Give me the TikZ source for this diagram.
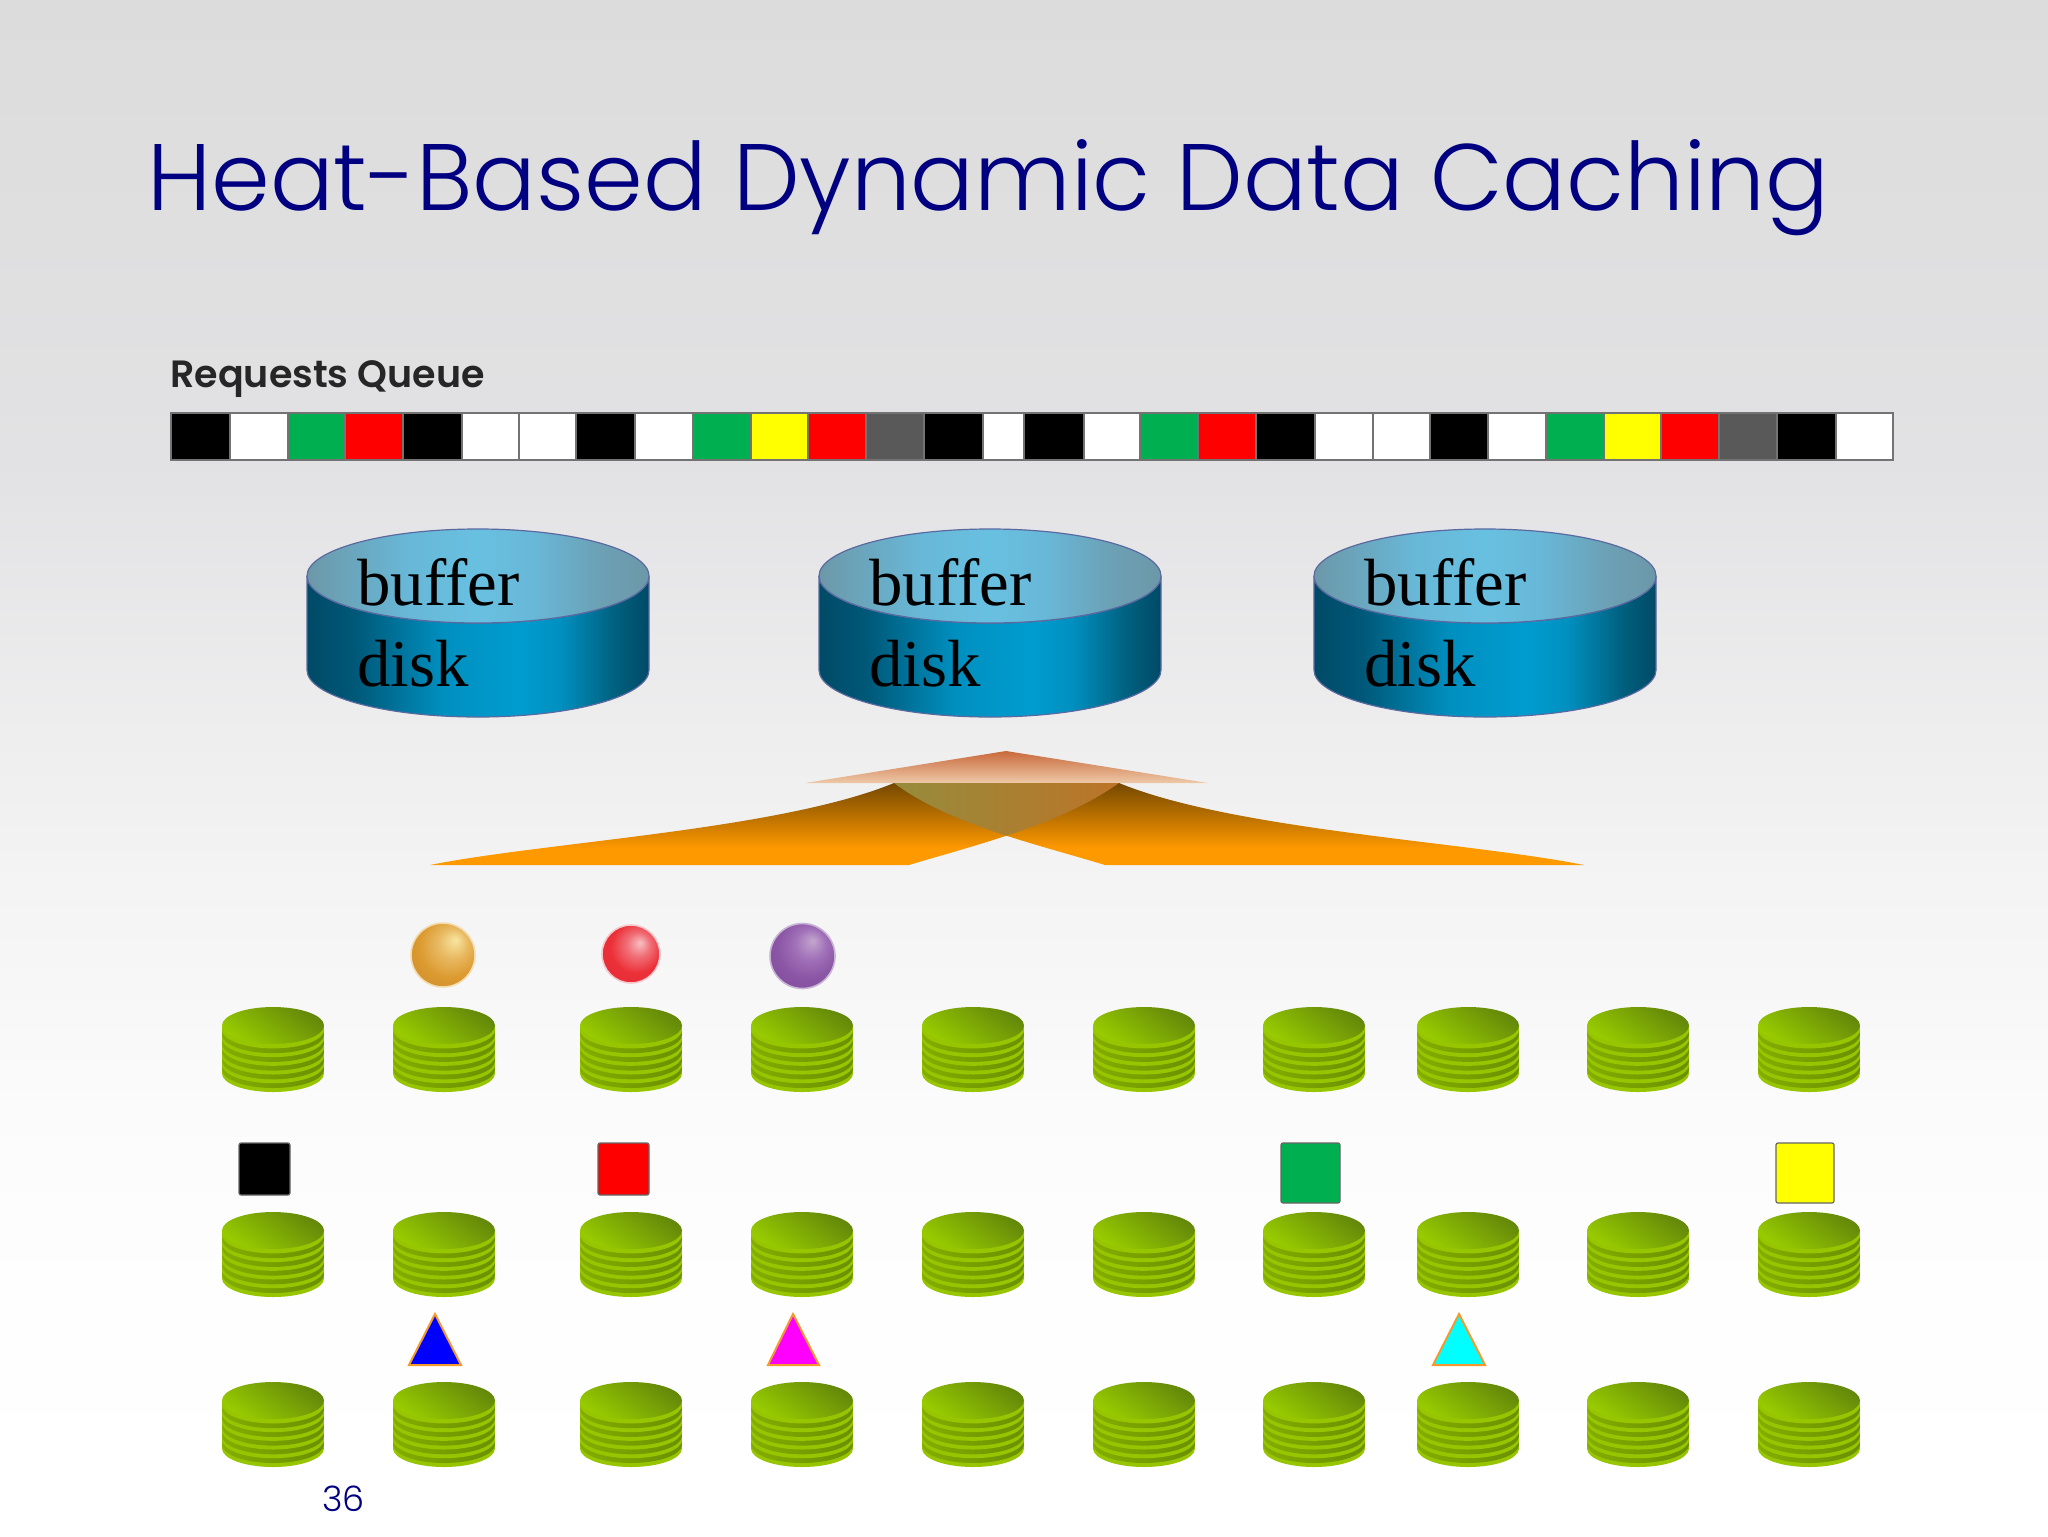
\documentclass[tikz,border=0pt]{standalone}
\usepackage{fontspec}
\setmainfont{Liberation Serif}
\newfontfamily\slidelight{Poppins Light}
\newfontfamily\slidebold{Poppins SemiBold}
\definecolor{navy}{HTML}{000080}
\definecolor{qgreen}{HTML}{00B050}
\definecolor{qgrey}{HTML}{595959}
\definecolor{qred}{HTML}{FF0000}
\definecolor{qyellow}{HTML}{FFFF00}
\definecolor{qblue}{HTML}{0000FF}
\definecolor{qmagenta}{HTML}{FF00FF}
\definecolor{qcyan}{HTML}{00FFFF}
\definecolor{rimgreen}{HTML}{97C600}
\definecolor{bandL}{HTML}{84AD00}
\definecolor{bandM}{HTML}{6A9000}
\definecolor{topA}{HTML}{98CC00}
\definecolor{topB}{HTML}{64880A}
\definecolor{ballA}{HTML}{F7E6A0}
\definecolor{ballM}{HTML}{E8B860}
\definecolor{ballB}{HTML}{DC9A30}
\definecolor{ballC}{HTML}{C9882C}
\definecolor{ballD}{HTML}{F3DDB0}
\definecolor{redA}{HTML}{F8C0C4}
\definecolor{redM}{HTML}{F07078}
\definecolor{redB}{HTML}{EC3038}
\definecolor{redC}{HTML}{E02A36}
\definecolor{redD}{HTML}{F6C8CC}
\definecolor{purA}{HTML}{C4A6CE}
\definecolor{purM}{HTML}{A070B8}
\definecolor{purB}{HTML}{8A55A4}
\definecolor{purC}{HTML}{7D4A98}
\definecolor{purD}{HTML}{C8B4D4}
\definecolor{diskA}{HTML}{004A66}
\definecolor{diskB}{HTML}{005878}
\definecolor{diskC}{HTML}{0090C0}
\definecolor{diskD}{HTML}{009CD0}
\definecolor{diskE}{HTML}{00607F}
\definecolor{diskline}{HTML}{5A6AA0}
\definecolor{topE}{HTML}{6C98A8}
\definecolor{topF}{HTML}{68B8D8}
\definecolor{topG}{HTML}{68C0E0}
\definecolor{topH}{HTML}{6CA0B4}
\definecolor{triorange}{HTML}{F29A2E}
\definecolor{fanA}{HTML}{C8693A}
\definecolor{fanB}{HTML}{EEC9A8}
\definecolor{fanC}{HTML}{744800}
\definecolor{fanD}{HTML}{FF9900}
\definecolor{lensA}{HTML}{968C3C}
\definecolor{lensB}{HTML}{BC7428}
\definecolor{bg0}{HTML}{FFFFFF}
\definecolor{bg1}{HTML}{FEFEFE}
\definecolor{bg15}{HTML}{FBFBFC}
\definecolor{bg2}{HTML}{F4F4F5}
\definecolor{bg3}{HTML}{EEEEEF}
\definecolor{bg4}{HTML}{E2E2E4}
\definecolor{bg5}{HTML}{DCDCDC}
\pgfdeclareverticalshading{slidebg}{100bp}{color(0bp)=(bg0);color(25bp)=(bg0);color(33bp)=(bg1);color(39bp)=(bg15);color(46bp)=(bg2);color(51bp)=(bg3);color(60bp)=(bg4);color(75bp)=(bg5);color(100bp)=(bg5)}
\pgfdeclareverticalshading{fanshade}{100bp}{color(0bp)=(fanD);color(35bp)=(fanD);color(75bp)=(fanC);color(100bp)=(fanC)}
\pgfdeclarehorizontalshading{diskside}{100bp}{color(0bp)=(diskA);color(25bp)=(diskA);color(32bp)=(diskB);color(45bp)=(diskC);color(56bp)=(diskD);color(62bp)=(diskC);color(70bp)=(diskE);color(75bp)=(diskA);color(100bp)=(diskA)}
\pgfdeclarehorizontalshading{disktop}{100bp}{color(0bp)=(topE);color(25bp)=(topE);color(40bp)=(topF);color(50bp)=(topG);color(58bp)=(topF);color(68bp)=(topH);color(75bp)=(topE);color(100bp)=(topE)}
\pgfdeclareradialshading{goldball}{\pgfpoint{10bp}{12bp}}{color(0bp)=(ballA);color(12bp)=(ballM);color(24bp)=(ballB);color(40bp)=(ballC);color(50bp)=(ballC)}
\pgfdeclareradialshading{redball}{\pgfpoint{8bp}{10bp}}{color(0bp)=(redA);color(10bp)=(redM);color(22bp)=(redB);color(40bp)=(redC);color(50bp)=(redC)}
\pgfdeclareradialshading{purball}{\pgfpoint{8bp}{12bp}}{color(0bp)=(purA);color(12bp)=(purM);color(24bp)=(purB);color(40bp)=(purC);color(50bp)=(purC)}
\tikzset{
  cell/.style={draw=black!55,line width=0.6pt},
  bigside/.style={draw=diskline,line width=0.6pt,shading=diskside},
  bigtop/.style={draw=diskline,line width=0.6pt,shading=disktop},
  disklabel/.style={anchor=base west,inner sep=0pt,font=\fontsize{33.4}{36}\selectfont,text=black},
  marker/.style={draw=black!60,line width=0.6pt,rounded corners=1pt},
  tri/.style={draw=triorange,line width=1pt,line join=miter},
  stackdisk/.pic={
    \fill[rimgreen] (-51,18.5) rectangle (51,66.5);
    \fill[rimgreen] (0,66.5) ellipse [x radius=51,y radius=18.5];
    \foreach \b in {62.5,53.8,45.1,36.4,27.7}{
      \shade[left color=bandL,middle color=bandM,right color=bandM] (0,\b) ellipse [x radius=51,y radius=18.5];
      \fill[rimgreen] (0,\b-4.8) ellipse [x radius=51,y radius=18.5];
    }
    \shade[top color=topB,bottom color=topA,shading angle=-35] (0,18.5) ellipse [x radius=51,y radius=18.5];
  }
}
\begin{document}
\begin{tikzpicture}[x=0.5pt,y=-0.5pt]
\shade[shading=slidebg] (0,0) rectangle (2048,1536);
\useasboundingbox (0,0) rectangle (2048,1536);
\node[anchor=base west,inner sep=0pt,text=navy,font=\slidelight\fontsize{47.2}{50}\selectfont] (title) at (147,210) {Heat-Based Dynamic Data Caching};
\node[anchor=base west,inner sep=0pt,text=black!85,font=\slidebold\fontsize{19}{22}\selectfont] (queuelabel) at (170,387) {Requests Queue};
% request queue
\foreach \xa/\xb/\c in {171/230/black,230/288/white,288/345/qgreen,345/403/qred,403/462/black,462/519/white,519/576/white,576/635/black,635/693/white,693/751/qgreen,751/808/qyellow,808/866/qred,866/924/qgrey,924/983/black,983/1024/white,1024/1084/black,1084/1140/white,1140/1198/qgreen,1198/1256/qred,1256/1315/black,1315/1373/white,1373/1430/white,1430/1488/black,1488/1546/white,1546/1604/qgreen,1604/1661/qyellow,1661/1719/qred,1719/1777/qgrey,1777/1836/black,1836/1893/white}
  \draw[cell,fill=\c] (\xa,413) rectangle (\xb,460);
% buffer disks
\foreach \cx/\nm in {478/a,990/b,1485/c}{
  \draw[bigside] (\cx-171,576) -- (\cx-171,670) arc[start angle=180,end angle=0,x radius=171,y radius=47] -- (\cx+171,576) arc[start angle=0,end angle=180,x radius=171,y radius=47] -- cycle;
  \draw[bigtop] (\cx,576) ellipse [x radius=171,y radius=47];
  \node[disklabel] (buffer\nm) at (\cx-121,605) {buffer};
  \node[disklabel] (disk\nm) at (\cx-121,686) {disk};
}
% orange fan
\shade[top color=fanA,bottom color=fanB] (1006,751) -- (1208,783) -- (805,783) -- cycle;
\shade[shading=fanshade] (894,783) .. controls (780,830) and (544,842) .. (430,865) -- (909,865) .. controls (975,845) and (1060,825) .. (1119,783) -- cycle;
\shade[shading=fanshade] (1119,783) .. controls (1233,830) and (1470,842) .. (1584,865) -- (1105,865) .. controls (1040,845) and (950,825) .. (894,783) -- cycle;
\begin{scope}
  \clip (894,783) .. controls (780,830) and (544,842) .. (430,865) -- (909,865) .. controls (975,845) and (1060,825) .. (1119,783) -- cycle;
  \clip (1119,783) .. controls (1233,830) and (1470,842) .. (1584,865) -- (1105,865) .. controls (1040,845) and (950,825) .. (894,783) -- cycle;
  \shade[left color=lensA,right color=lensB] (894,783) rectangle (1119,840);
\end{scope}
% balls
\draw[shading=goldball,draw=ballD,line width=0.8pt] (443,955) circle [radius=32];
\draw[shading=redball,draw=redD,line width=0.8pt] (631,954) circle [radius=29];
\draw[shading=purball,draw=purD,line width=0.8pt] (802.5,956) circle [radius=32.5];
% disk stacks
\foreach \cx in {273,444,631,802,973,1144,1314,1468,1638,1809}
  \foreach \ty in {1007,1212,1382}
    \pic at (\cx,\ty) {stackdisk};
% squares
\draw[marker,fill=black] (239,1143) rectangle (290,1195);
\draw[marker,fill=qred] (598,1143) rectangle (649,1195);
\draw[marker,fill=qgreen] (1281,1143) rectangle (1340,1203);
\draw[marker,fill=qyellow] (1776,1143) rectangle (1834,1203);
% triangles
\draw[tri,fill=qblue] (435,1314) -- (461,1365) -- (409,1365) -- cycle;
\draw[tri,fill=qmagenta] (793,1314) -- (819,1365) -- (768,1365) -- cycle;
\draw[tri,fill=qcyan] (1459,1314) -- (1485,1365) -- (1433,1365) -- cycle;
\node[anchor=base west,inner sep=0pt,text=navy,font=\slidelight\fontsize{17.5}{20}\selectfont] (pageno) at (322,1511) {36};
\end{tikzpicture}
\end{document}
